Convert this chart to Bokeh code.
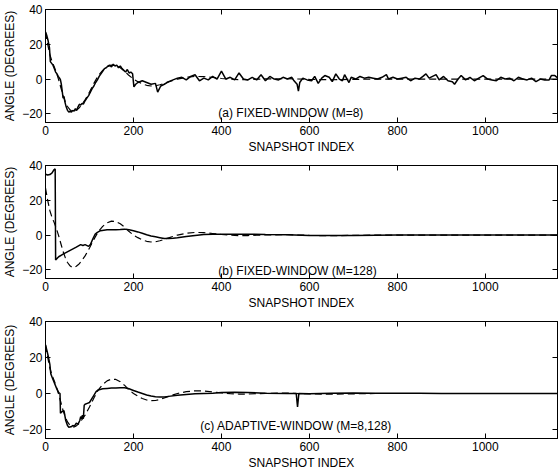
from bokeh.plotting import figure
from bokeh.layouts import column
from bokeh.models import Range1d, LinearAxis, FixedTicker, Label
from bokeh.embed import file_html
from bokeh.resources import INLINE

# ---------------- data ----------------
x_ticks = [0, 200, 400, 600, 800, 1000]
y_ticks = [-20, 0, 20, 40]

# true angle trajectory (dashed, same in all panels)
true_x = [0, 5, 10, 15, 20, 25, 30, 35, 40, 45, 50, 55, 60, 65, 70, 75, 80, 90,
          100, 110, 120, 130, 140, 150, 160, 170, 180, 190, 200, 210, 220, 230,
          240, 250, 260, 270, 280, 290, 300, 320, 340, 360, 380, 400, 420, 440,
          460, 480, 500, 550, 600, 650, 700, 750, 800, 850, 900, 950, 1000, 1050,
          1100, 1165]
true_y = [27, 20, 14, 10, 7, 3.5, -0.5, -5, -9.5, -13, -15.8, -17.5, -18.5, -18.6,
          -18, -17, -15.5, -12, -7.5, -2.5, 2, 5, 7, 8, 7.8, 6.5, 4.5, 2, 0, -1.5,
          -2.8, -3.6, -4, -3.9, -3.3, -2.5, -1.6, -0.8, 0, 1, 1.5, 1.4, 0.9, 0.3,
          -0.1, -0.3, -0.3, -0.1, 0.1, 0.2, -0.2, -0.4, -0.2, 0, 0, 0, 0, 0, 0, 0,
          0, 0]

# (a) fixed window M=8 estimate
a_x = [0, 3, 6, 9, 11, 14, 17, 20, 23, 26, 29, 32, 34, 36, 38, 40, 42, 44, 47, 50,
       53, 56, 59, 62, 65, 68, 71, 74, 77, 80, 83, 86, 90, 94, 98, 102, 106, 110,
       114, 118, 122, 126, 130, 134, 138, 142, 146, 150, 154, 158, 162, 166, 170,
       174, 178, 182, 186, 190, 194, 198, 201, 205, 210, 220, 230, 240, 250, 255,
       262, 270, 280, 290, 300, 310, 320, 330, 340, 350, 360, 370, 380, 390, 400,
       410, 420, 430, 440, 450, 460, 470, 480, 490, 500, 510, 520, 530, 540, 550,
       560, 565, 572, 575, 578, 585, 595, 605, 612, 620, 628, 635, 645, 652, 660,
       668, 675, 680, 690, 695, 705, 715, 725, 735, 745, 755, 765, 775, 780, 790,
       800, 810, 820, 830, 840, 850, 858, 865, 872, 880, 888, 895, 905, 915, 925,
       930, 938, 945, 955, 965, 975, 985, 995, 1005, 1015, 1025, 1035, 1045, 1055,
       1065, 1075, 1085, 1095, 1105, 1115, 1125, 1135, 1145, 1150, 1158, 1165]
a_y = [27, 25, 22, 18, 10, 9, 8, 6, 4, 3, 1.5, 0.5, -0.5, -3, -7, -11, -10, -13,
       -16, -18, -19, -18.5, -19, -18, -18.5, -17, -18, -16, -14.5, -15, -14,
       -14.5, -12.5, -11, -9.5, -7.5, -5.5, -4, -2, -0.5, 1.5, 3, 4.5, 6, 6.5,
       7.5, 8, 7, 8.5, 7.5, 8, 6.5, 7.5, 6, 5, 4, 5.5, 3.5, 4, 3, -4.5, -3, -2,
       -1, -2, -3, -2.5, -7.5, -4, -3, -1.5, -0.5, 0.5, 1, -0.5, 1.5, 2.5, -1,
       0.5, -0.5, 1.5, 0, 4.5, 0, 1, -0.5, 3.5, 0, -0.5, 1, -0.5, 2.5, -1, 1.5,
       0, -0.5, 1, 0, 1, -1, -3, -7, -2, 0.5, -0.5, -1, 1.5, -2.5, 0.5, 2, 1,
       -1.5, 3, 0, -1, 2.5, -2, 1, 0, 1.5, 0.5, 1, 0.5, 0, 1, 2.5, 0, 1, 0, 0.5,
       1, -1, 0.5, 0, 1.5, 3, 0.5, 1.5, 2.5, -0.5, 1.5, -1, -1.5, -3, 0, 2, -0.5,
       1, -1, 0.5, 2, 0, -0.5, -1, 1, 0, 0.5, -1, 1, 0, -0.5, 0.5, -1.5, 0, -0.5,
       -0.5, 2, 2, 0.5]

# (b) fixed window M=128 estimate
b_x = [0, 5, 10, 15, 19, 22, 23, 30, 40, 55, 70, 80, 85, 90, 98, 102, 108, 113,
       118, 125, 140, 160, 170, 180, 190, 200, 210, 220, 230, 240, 250, 260, 270,
       280, 290, 300, 320, 340, 360, 380, 400, 420, 450, 500, 550, 600, 650, 700,
       750, 800, 850, 900, 950, 1000, 1050, 1100, 1165]
b_y = [35, 34.5, 34.8, 35.8, 37.5, 38, -14.3, -12.5, -11, -9, -7, -5.5, -6, -5.5,
       -6.5, -5.5, -2, 0.5, 1.5, 2.5, 3, 3.1, 3.2, 3.4, 3, 2.5, 1.8, 1, 0.2, -0.5,
       -1, -1.5, -2, -2, -1.8, -1.5, -0.8, -0.2, 0.3, 0.5, 0.5, 0.5, 0.5, 0.3,
       0.2, -0.2, -0.3, -0.2, -0.1, 0, 0, 0, 0, 0, 0, 0, 0]

# (c) adaptive window M=8,128 estimate
c_x = [0, 3, 6, 10, 12, 15, 20, 25, 30, 33, 34, 38, 42, 46, 50, 53, 58, 62, 66, 70,
       74, 78, 80, 82, 84, 86, 88, 90, 95, 100, 105, 110, 115, 120, 130, 140, 150,
       160, 170, 180, 190, 200, 210, 220, 230, 240, 250, 260, 270, 280, 300, 320,
       340, 360, 380, 400, 430, 460, 500, 550, 570, 573, 576, 600, 650, 700, 750,
       800, 850, 900, 950, 1000, 1050, 1100, 1165]
c_y = [27, 24, 21, 16, 11, 9, 6, 3, 0.5, 0, -11, -10, -9.5, -15, -17.8, -18.7,
       -18.5, -17.8, -18, -16.5, -17, -15, -12.8, -14, -12, -14, -6.5, -6, -5.5,
       -5, -3, -1, 1, 2, 2.6, 2.8, 3, 3.1, 3.2, 3.2, 2.6, 1.7, 0.8, 0, -0.8, -1.4,
       -1.8, -2, -2, -1.6, -1, -0.5, -0.2, 0, 0.2, 0.5, 0.7, 0.5, 0.2, 0, 0, -7.5,
       0, -0.2, 0.2, 0.3, 0.2, 0.1, 0.1, 0, 0, 0, 0, 0, 0]

panel_texts = ["(a) FIXED-WINDOW (M=8)", "(b) FIXED-WINDOW (M=128)",
               "(c) ADAPTIVE-WINDOW (M=8,128)"]

FONT = "Liberation Sans"


def make_panel(xs, ys, text, tx, ty, height, bottom):
    p = figure(width=558, height=height, output_backend="svg", toolbar_location=None,
               x_range=Range1d(0, 1164), y_range=Range1d(-25, 40),
               min_border_left=45, min_border_right=1, min_border_top=9,
               min_border_bottom=bottom)
    p.grid.visible = False
    p.outline_line_color = "black"
    p.outline_line_width = 1
    p.background_fill_color = "white"
    p.border_fill_color = "white"

    p.line(true_x, true_y, line_color="black", line_width=1.2, line_dash="7 4")
    p.line(xs, ys, line_color="black", line_width=1.5)

    for ax in (p.xaxis[0], p.yaxis[0]):
        ax.major_tick_in = 5
        ax.major_tick_out = 0
        ax.minor_tick_line_color = None
        ax.axis_line_color = "black"
        ax.major_label_text_font = FONT
        ax.major_label_text_font_size = "12px"
        ax.major_label_text_color = "black"
        ax.axis_label_text_font = FONT
        ax.axis_label_text_font_size = "12px"
        ax.axis_label_text_font_style = "normal"
        ax.axis_label_text_color = "black"
        ax.major_label_standoff = 3
        ax.axis_label_standoff = 2
    p.xaxis[0].ticker = FixedTicker(ticks=x_ticks)
    p.yaxis[0].ticker = FixedTicker(ticks=y_ticks)
    p.xaxis[0].axis_label = "SNAPSHOT INDEX"
    p.yaxis[0].axis_label = "ANGLE (DEGREES)"

    top = LinearAxis(ticker=FixedTicker(ticks=x_ticks),
                     major_label_overrides={t: "" for t in x_ticks})
    right = LinearAxis(ticker=FixedTicker(ticks=y_ticks),
                       major_label_overrides={t: "" for t in y_ticks})
    for ax in (top, right):
        ax.major_tick_in = 5
        ax.major_tick_out = 0
        ax.minor_tick_line_color = None
        ax.major_label_standoff = 0
        ax.axis_line_color = "black"
    p.add_layout(top, "above")
    p.add_layout(right, "right")

    p.add_layout(Label(x=tx, y=ty, text=text, text_font=FONT, text_font_size="12px",
                       text_baseline="middle", text_align="left", text_color="black"))
    return p


pa = make_panel(a_x, a_y, panel_texts[0], 393, -19.4, 156, 30)
pb = make_panel(b_x, b_y, panel_texts[1], 393, -20.5, 156, 30)
pc = make_panel(c_x, c_y, panel_texts[2], 352, -17.8, 162, 36)

layout = column(pa, pb, pc, spacing=0)
open("out.html", "w").write(file_html(layout, INLINE))
